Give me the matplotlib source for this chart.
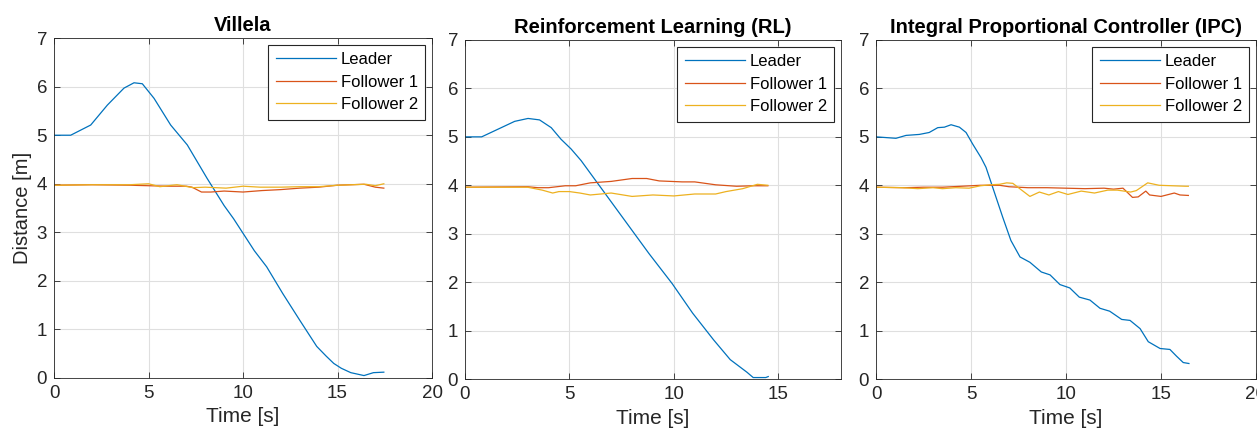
import matplotlib.pyplot as plt

plt.rcParams['font.family'] = ['Liberation Sans', 'DejaVu Sans']

# --- Villela ---
v_lead_t = [0, 0.88, 1.94, 2.82, 3.7, 4.23, 4.67, 5.29, 6.17, 7.05, 8.1, 9.0, 9.5, 10.0,
            10.6, 11.25, 12.1, 13.0, 13.9, 14.4, 14.8, 15.2, 15.7, 16.4, 16.9, 17.45]
v_lead_d = [5.0, 5.0, 5.21, 5.62, 5.97, 6.08, 6.06, 5.76, 5.21, 4.8, 4.11, 3.55, 3.28, 2.98,
            2.62, 2.29, 1.74, 1.19, 0.65, 0.45, 0.30, 0.20, 0.11, 0.05, 0.11, 0.12]
v_f1_t = [0, 2, 4, 5, 6, 7, 7.3, 7.8, 8.3, 9, 10, 11, 12, 13, 14, 15, 16.4, 17, 17.45]
v_f1_d = [3.97, 3.98, 3.97, 3.96, 3.95, 3.95, 3.93, 3.83, 3.83, 3.85, 3.83, 3.86, 3.88,
          3.91, 3.93, 3.97, 3.99, 3.93, 3.91]
v_f2_t = [0, 2, 4, 5, 5.6, 6.5, 7.35, 8.0, 9.1, 10.0, 10.9, 12, 13, 14, 15, 16.5, 17, 17.45]
v_f2_d = [3.97, 3.98, 3.98, 4.0, 3.94, 3.98, 3.92, 3.93, 3.91, 3.95, 3.93, 3.93, 3.94,
          3.94, 3.97, 3.99, 3.96, 4.0]

# --- Reinforcement Learning ---
r_lead_t = [0, 0.8, 1.59, 2.38, 3.02, 3.57, 4.13, 4.6, 5.08, 5.56, 6.27, 7.54, 8.81, 9.92,
            10.9, 11.9, 12.7, 13.5, 13.8, 14.4, 14.52]
r_lead_d = [5.0, 5.0, 5.16, 5.32, 5.38, 5.35, 5.19, 4.95, 4.75, 4.51, 4.09, 3.34, 2.59, 1.97,
            1.36, 0.81, 0.40, 0.14, 0.03, 0.03, 0.05]
r_f1_t = [0, 3, 3.5, 4, 4.8, 5.3, 6, 7, 8, 8.7, 9.3, 10.4, 11, 12, 13, 13.8, 14.5]
r_f1_d = [3.96, 3.97, 3.95, 3.95, 3.99, 3.99, 4.05, 4.08, 4.14, 4.14, 4.09, 4.07, 4.07,
          4.01, 3.98, 3.99, 3.99]
r_f2_t = [0, 3, 3.7, 4.2, 4.5, 5, 5.5, 6, 6.5, 7, 8, 9, 10, 11, 12, 12.5, 13.3, 14, 14.5]
r_f2_d = [3.96, 3.96, 3.9, 3.84, 3.87, 3.87, 3.84, 3.8, 3.82, 3.84, 3.77, 3.8, 3.78, 3.82,
          3.82, 3.87, 3.93, 4.02, 4.0]

# --- Integral Proportional Controller ---
i_lead_t = [0, 1.05, 1.58, 2.28, 2.8, 3.25, 3.6, 3.95, 4.39, 4.74, 5.09, 5.53, 5.79, 6.14,
            6.67, 7.1, 7.58, 8.1, 8.7, 9.16, 9.68, 10.2, 10.7, 11.26, 11.79, 12.3, 12.93,
            13.37, 13.9, 14.33, 14.95, 15.47, 15.82, 16.17, 16.47]
i_lead_d = [5.0, 4.97, 5.03, 5.05, 5.09, 5.19, 5.2, 5.25, 5.2, 5.09, 4.85, 4.57, 4.37, 3.96,
            3.34, 2.86, 2.52, 2.41, 2.21, 2.15, 1.95, 1.88, 1.69, 1.63, 1.46, 1.40, 1.23,
            1.21, 1.04, 0.77, 0.63, 0.61, 0.47, 0.34, 0.32]
i_f1_t = [0, 1.5, 2.5, 3.5, 4.5, 5.5, 6.5, 7, 8, 9, 10, 11, 12, 12.5, 13, 13.5, 13.8, 14.2,
          14.4, 15.0, 15.7, 16.0, 16.44]
i_f1_d = [3.96, 3.95, 3.96, 3.96, 3.98, 4.0, 4.0, 3.97, 3.95, 3.95, 3.94, 3.93, 3.94, 3.92,
          3.94, 3.75, 3.76, 3.88, 3.8, 3.77, 3.84, 3.8, 3.79]
i_f2_t = [0, 1.4, 2.2, 3.0, 3.5, 4.2, 4.9, 5.5, 6.0, 6.5, 6.88, 7.2, 8.1, 8.6, 9.1, 9.6,
          10.1, 10.8, 11.5, 12.2, 12.7, 13.4, 13.7, 14.3, 14.9, 16.3, 16.44]
i_f2_d = [3.96, 3.95, 3.93, 3.95, 3.93, 3.95, 3.94, 3.99, 4.01, 4.02, 4.05, 4.04, 3.77, 3.86,
          3.8, 3.87, 3.81, 3.88, 3.84, 3.9, 3.9, 3.86, 3.89, 4.05, 4.0, 3.98, 3.98]

titles = ['Villela', 'Reinforcement Learning (RL)', 'Integral Proportional Controller (IPC)']
labels = ['Leader', 'Follower 1', 'Follower 2']
xmax = [20, 18, 20]
xticks = [[0, 5, 10, 15, 20], [0, 5, 10, 15], [0, 5, 10, 15, 20]]
series = [
    [(v_lead_t, v_lead_d), (v_f1_t, v_f1_d), (v_f2_t, v_f2_d)],
    [(r_lead_t, r_lead_d), (r_f1_t, r_f1_d), (r_f2_t, r_f2_d)],
    [(i_lead_t, i_lead_d), (i_f1_t, i_f1_d), (i_f2_t, i_f2_d)],
]
colors = ['#0072BD', '#D95319', '#EDB120']
positions = [
    [0.0430, 0.137, 0.3007, 0.776],
    [0.3699, 0.1347, 0.2991, 0.774],
    [0.6969, 0.1347, 0.3023, 0.774],
]
ink = '#262626'

fig = plt.figure(figsize=(12.57, 4.38), dpi=100)

for k in range(3):
    ax = fig.add_axes(positions[k])
    for (t, d), c, lab in zip(series[k], colors, labels):
        ax.plot(t, d, color=c, lw=0.9, label=lab)
    ax.set_xlim(0, xmax[k])
    ax.set_ylim(0, 7)
    ax.set_xticks(xticks[k])
    ax.set_yticks(range(8))
    ax.grid(True, color='#dfdfdf', lw=0.8)
    ax.set_axisbelow(True)
    ax.tick_params(direction='in', top=True, right=True, labelsize=13.5,
                   colors=ink, length=4, width=0.6, pad=5)
    for s in ax.spines.values():
        s.set_color(ink)
        s.set_linewidth(0.6)
    ax.set_title(titles[k], fontsize=14.5, fontweight='bold', pad=5)
    ax.set_xlabel('Time [s]', fontsize=15, color=ink, labelpad=4)
    if k == 0:
        ax.set_ylabel('Distance [m]', fontsize=14.5, color=ink, labelpad=3)
    leg = ax.legend(loc='upper right', fontsize=12, fancybox=False, edgecolor=ink,
                    framealpha=1, handlelength=3.6, handletextpad=0.3,
                    borderaxespad=0.4, labelspacing=0.45, borderpad=0.45)
    leg.get_frame().set_linewidth(0.8)

fig.savefig('out.png', dpi=100)
